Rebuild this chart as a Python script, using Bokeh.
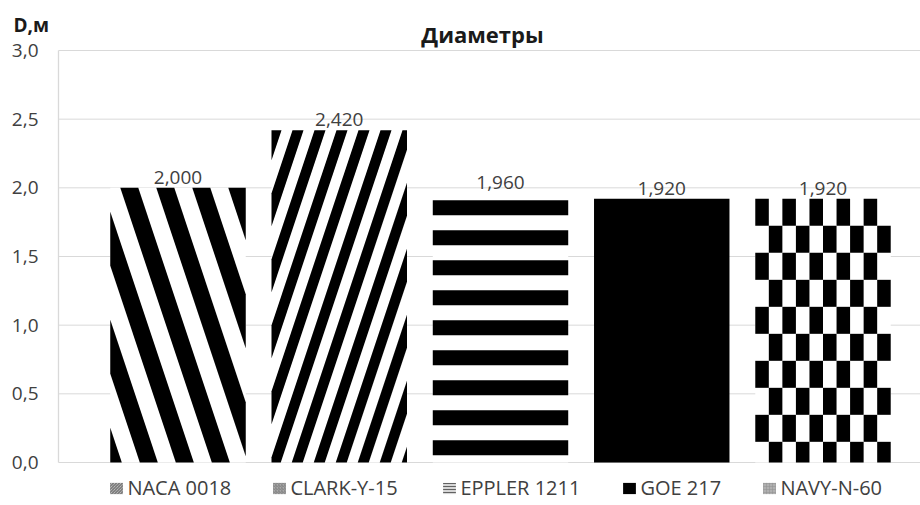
import math
from bokeh.plotting import figure
from bokeh.models import ColumnDataSource, Range1d, LabelSet, Legend, LegendItem
from bokeh.core.properties import value
from bokeh.embed import file_html
from bokeh.resources import INLINE

# ---------------- data ----------------
profiles = ["NACA 0018", "CLARK-Y-15", "EPPLER 1211", "GOE 217", "NAVY-N-60"]
diameters = [2.000, 2.420, 1.960, 1.920, 1.920]
y_ticks = [0.0, 0.5, 1.0, 1.5, 2.0, 2.5, 3.0]
title_text = "Диаметры"
y_title = "D,м"

# ---------------- layout / styles ----------------
W, H = 920, 505
FONT = "Open Sans"
TEXT = "#404040"
GRID = "#d9d9d9"
FRAME_L, FRAME_R = 58, 920          # plot area (px)
Y0_PX, YMAX_PX = 462, 50            # px of y=0 and y=3
X0_PX, DX_PX = 177.5, 161.25        # px of first category centre, category step
BAR_W = 0.84
KY = (Y0_PX - YMAX_PX) / y_ticks[-1]

def px2x(px): return (px - X0_PX) / DX_PX
def px2y(py): return (Y0_PX - py) / KY
def x2px(x): return X0_PX + x * DX_PX
def y2px(y): return Y0_PX - y * KY

# pattern style for each bar
bar_styles = [
    dict(kind="diag", dir=+1, period=36, black=18, off=10, slope=3),
    dict(kind="diag", dir=-1, period=22, black=11, off=-1, slope=3),
    dict(kind="bands", period=30, black=15, off=7),
    dict(kind="solid"),
    dict(kind="checker", cols=10, row=27),
]
bar_fills = ["white", "white", "white", "black", "white"]


def clip_poly(pts, xmin, xmax, ymin, ymax):
    def clip(pts, inside, inter):
        out = []
        for i in range(len(pts)):
            cur, prev = pts[i], pts[i - 1]
            if inside(cur):
                if not inside(prev):
                    out.append(inter(prev, cur))
                out.append(cur)
            elif inside(prev):
                out.append(inter(prev, cur))
        return out

    def ix(a, b, xv):
        t = (xv - a[0]) / (b[0] - a[0])
        return (xv, a[1] + t * (b[1] - a[1]))

    def iy(a, b, yv):
        t = (yv - a[1]) / (b[1] - a[1])
        return (a[0] + t * (b[0] - a[0]), yv)

    for inside, inter in [
        (lambda p: p[0] >= xmin, lambda a, b: ix(a, b, xmin)),
        (lambda p: p[0] <= xmax, lambda a, b: ix(a, b, xmax)),
        (lambda p: p[1] >= ymin, lambda a, b: iy(a, b, ymin)),
        (lambda p: p[1] <= ymax, lambda a, b: iy(a, b, ymax)),
    ]:
        if not pts:
            return pts
        pts = clip(pts, inside, inter)
    return pts


pat_xs, pat_ys = [], []
for i, (v, st) in enumerate(zip(diameters, bar_styles)):
    L, R = x2px(i - BAR_W / 2), x2px(i + BAR_W / 2)
    T, B = y2px(v), y2px(0)
    hb = B - T
    polys = []
    if st["kind"] == "diag":
        p_, w_, s_, d_ = st["period"], st["black"], st["slope"], st["dir"]
        shift = d_ * hb / s_
        nmin = -int(math.ceil(abs(shift) / p_)) - 2
        nmax = int(math.ceil((R - L + abs(shift)) / p_)) + 2
        for n in range(nmin, nmax):
            a = L + st["off"] + n * p_
            polys.append([(a, T), (a + w_, T), (a + w_ + shift, B), (a + shift, B)])
    elif st["kind"] == "bands":
        y = T + st["off"]
        while y < B:
            polys.append([(L, y), (R, y), (R, y + st["black"]), (L, y + st["black"])])
            y += st["period"]
    elif st["kind"] == "checker":
        cw = (R - L) / st["cols"]
        r = 0
        y = T
        while y < B:
            for c in range(st["cols"]):
                if (r + c) % 2 == 0:
                    xa = L + c * cw
                    polys.append([(xa, y), (xa + cw, y), (xa + cw, y + st["row"]), (xa, y + st["row"])])
            y += st["row"]
            r += 1
    for poly in polys:
        cp = clip_poly(poly, L, R, T, B)
        if len(cp) >= 3:
            pat_xs.append([px2x(q[0]) for q in cp])
            pat_ys.append([px2y(q[1]) for q in cp])

xs = list(range(len(profiles)))
src = ColumnDataSource(dict(
    x=xs, top=diameters, fill=bar_fills,
    label=[f"{v:.3f}".replace(".", ",") for v in diameters],
))

p = figure(width=W, height=H, output_backend="svg", toolbar_location=None,
           x_range=Range1d(px2x(0), px2x(W)), y_range=Range1d(px2y(H), px2y(0)),
           x_axis_location=None, y_axis_location=None,
           min_border=0, min_border_left=0, min_border_right=0, min_border_top=0, min_border_bottom=0)
p.outline_line_color = None
p.xgrid.visible = False
p.ygrid.visible = False
p.background_fill_color = "white"
p.border_fill_color = "white"

# grid lines and axis line
p.segment(x0=px2x(FRAME_L), x1=px2x(FRAME_R), y0=y_ticks, y1=y_ticks, line_color=GRID, line_width=1)
p.segment(x0=[px2x(FRAME_L)], x1=[px2x(FRAME_L)], y0=[y_ticks[0]], y1=[y_ticks[-1]],
          line_color=GRID, line_width=1.3)

# tick labels
p.text(x=px2x(38), y=y_ticks, text=[f"{t:.1f}".replace(".", ",") for t in y_ticks],
       text_align="right", text_baseline="middle", text_font=value(FONT),
       text_font_size="19px", text_color=TEXT)

# bars
p.vbar(x="x", top="top", width=BAR_W, bottom=0, source=src, fill_color="fill", line_color=None)
p.patches(xs=pat_xs, ys=pat_ys, fill_color="black", line_color=None)

# value labels
p.add_layout(LabelSet(x="x", y="top", text="label", source=src, text_align="center",
                      text_baseline="bottom", y_offset=4, text_font=value(FONT),
                      text_font_size="19px", text_color=TEXT))

# title and unit label
p.text(x=[px2x(482)], y=[px2y(33)], text=[title_text], text_align="center", text_baseline="middle",
       text_font=value(FONT), text_font_size="22px", text_font_style="bold", text_color="#1a1a1a")
p.text(x=[px2x(13)], y=[px2y(24)], text=[y_title], text_align="left", text_baseline="middle",
       text_font=value(FONT), text_font_size="19px", text_font_style="bold", text_color="#1a1a1a")

# legend proxies (one off-canvas point each, so that the legend has a glyph to draw)
legend_styles = [
    dict(fill_color="#d6d6d6", hatch_pattern="\\", hatch_scale=3, hatch_weight=0.9, hatch_color="#555555"),
    dict(fill_color="#a8a8a8", hatch_pattern="/", hatch_scale=3, hatch_weight=0.7, hatch_color="#707070"),
    dict(fill_color="#d6d6d6", hatch_pattern="-", hatch_scale=3, hatch_weight=0.9, hatch_color="#555555"),
    dict(fill_color="black"),
    dict(fill_color="#b0b0b0", hatch_pattern="+", hatch_scale=3, hatch_weight=0.5, hatch_color="#909090"),
]
legend_x = [108.4, 271.4, 441.4, 621.4, 761.4]
off = px2x(-200)
for name, style, lx in zip(profiles, legend_styles, legend_x):
    r = p.quad(left=[off], right=[off], top=[px2y(-200)], bottom=[px2y(-200)], line_color=None, **style)
    lg = Legend(items=[LegendItem(label=name, renderers=[r])], location=(lx, H - 501),
                orientation="horizontal", border_line_color=None, background_fill_alpha=0,
                padding=0, margin=0, glyph_width=16, glyph_height=14, label_standoff=3,
                label_height=20, label_text_baseline="middle",
                label_text_font=FONT, label_text_font_size="20px", label_text_color=TEXT)
    p.add_layout(lg)

open("out.html", "w").write(file_html(p, INLINE))
